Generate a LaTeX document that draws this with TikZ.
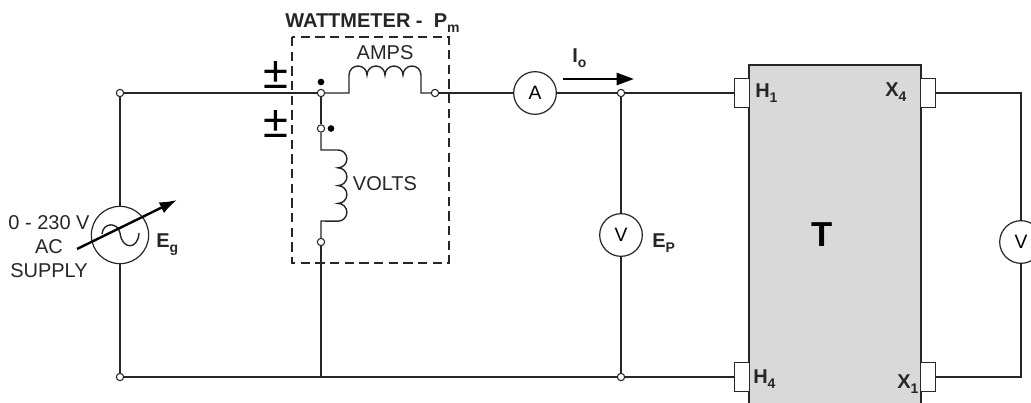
\documentclass[tikz,border=0pt]{standalone}
\usepackage{fontspec}
\setmainfont{Liberation Sans}
\usetikzlibrary{arrows.meta}
\tikzset{
  x=0.75pt,y=-0.75pt,
  wire/.style={line width=1.05pt,draw=black!85},
  term/.style={circle,draw=black!85,fill=white,line width=0.8pt,minimum size=5.5pt,inner sep=0pt},
  dotm/.style={circle,fill=black,minimum size=5pt,inner sep=0pt},
  meter/.style={circle,draw=black!85,fill=white,line width=0.9pt,minimum size=32pt,inner sep=0pt,font=\fontsize{14.5pt}{16pt}\selectfont},
  lab/.style={inner sep=0pt,font=\fontsize{15pt}{18pt}\selectfont,text=black!85},
  blab/.style={inner sep=0pt,anchor=base west,font=\fontsize{15pt}{18pt}\selectfont\bfseries,text=black!85},
  tab/.style={draw=black!85,fill=white,line width=0.9pt,inner sep=0pt,minimum width=10.8pt,minimum height=21.8pt},
  pm/.style={inner sep=0pt,font=\fontsize{34pt}{34pt}\selectfont,text=black}
}
\newcommand{\subs}[1]{\raisebox{-0.25em}{\fontsize{10.5pt}{10.5pt}\selectfont\bfseries #1}}
\begin{document}
\begin{tikzpicture}
\useasboundingbox (0,0) rectangle (1031,403);
\path[clip] (0,0) rectangle (1031,403);
% transformer
\path[fill=black!15] (749,65) rectangle (921,410);
\draw[wire] (749,410) -- (749,65) -- (921,65) -- (921,410);
\node[tab] (h1) at (742,93) {};
\node[tab] (x4) at (928,93) {};
\node[tab] (h4) at (742,377) {};
\node[tab] (x1) at (928,377) {};
% terminals
\node[term] (tl) at (120,93) {};
\node[term] (bl) at (120,377) {};
\node[term] (w1) at (321,93) {};
\node[term] (w2) at (321,128.5) {};
\node[term] (w3) at (321,242) {};
\node[term] (w4) at (435,93) {};
\node[term] (n1) at (621,93) {};
\node[term] (n2) at (621,377) {};
\coordinate (wb) at (321,377);
\coordinate (rt) at (1021,93);
\coordinate (rb) at (1021,377);
\node[meter,minimum size=43pt] (g) at (120,235) {};
\node[meter] (am) at (535,93) {A};
\node[meter] (vm) at (621,235) {V};
\node[meter] (vr) at (1021,242) {V};
% wires
\draw[wire] (tl) -- (w1);
\draw[wire] (tl) -- (g);
\draw[wire] (bl) -- (g);
\draw[wire] (bl) -- (wb) -- (n2);
\draw[wire] (n2) -- (h4);
\draw[wire] (w1) -- (w2);
\draw[wire] (w3) -- (wb);
\draw[wire] (w4) -- (am);
\draw[wire] (am) -- (n1);
\draw[wire] (n1) -- (h1);
\draw[wire] (n1) -- (vm);
\draw[wire] (n2) -- (vm);
\draw[wire] (x4) -- (rt) -- (vr);
\draw[wire] (x1) -- (rb) -- (vr);
% amps coil
\draw[wire] (w1) -- (349,93) -- (349,75)
  arc[start angle=180,end angle=360,radius=9] arc[start angle=180,end angle=360,radius=9]
  arc[start angle=180,end angle=360,radius=9] arc[start angle=180,end angle=360,radius=9]
  -- (421,93) -- (w4);
% volts coil
\draw[wire] (w2) -- (321,150) -- (338,150)
  arc[start angle=-90,end angle=90,radius=8.9] arc[start angle=-90,end angle=90,radius=8.9]
  arc[start angle=-90,end angle=90,radius=8.9] arc[start angle=-90,end angle=90,radius=8.9]
  -- (321,221) -- (w3);
% dashed box
\draw[line width=0.9pt,draw=black!85,dash pattern=on 7pt off 4pt] (292,37) rectangle (449,263);
% polarity dots
\node[dotm] (d1) at (321,82) {};
\node[dotm] (d2) at (331,128.5) {};
% +- marks
\node[pm] (p1) at (276,75) {±};
\node[pm] (p2) at (276,124) {±};
% source symbol
\draw[wire] (102,234) .. controls (103,222) and (118,222) .. (120,233)
  .. controls (122,250) and (138,250) .. (139,233);
\draw[line width=1.8pt,draw=black,-{Latex[length=13pt,width=9pt]}] (77,249) -- (177,200);
% current arrow
\draw[line width=2pt,draw=black,-{Triangle[length=13pt,width=9pt]}] (563,79) -- (634,79);
% labels
\node[lab,align=center] (src) at (49,247) {0 - 230 V\\AC\\SUPPLY};
\node[blab] (lg) at (156,247) {E\subs{g}};
\node[blab] (lw) at (285,27.5) {WATTMETER -\ \ P\subs{m}};
\node[lab] (la) at (385,53) {AMPS};
\node[lab] (lv) at (385,184) {VOLTS};
\node[blab] (lo) at (572,63) {I\subs{o}};
\node[blab] (lp) at (652,247) {E\subs{P}};
\node[blab] (lh1) at (755,98) {H\subs{1}};
\node[blab] (lx4) at (885,97) {X\subs{4}};
\node[blab] (lh4) at (753,383) {H\subs{4}};
\node[blab] (lx1) at (897,388) {X\subs{1}};
\node[inner sep=0pt,font=\fontsize{26pt}{26pt}\selectfont\bfseries,text=black] (lt) at (822,235) {T};
\end{tikzpicture}
\end{document}
